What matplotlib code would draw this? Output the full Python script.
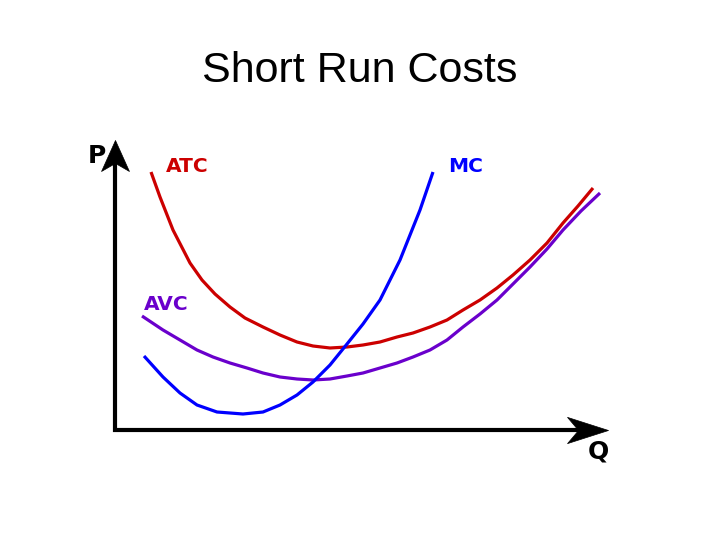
from matplotlib import pyplot as plt
from matplotlib.path import Path

# curvas de costos a corto plazo (Q en horizontal, P en vertical)
atc_q = [36, 45, 58, 75, 87, 100, 115, 130, 148, 165, 182, 198, 215, 232, 248, 265, 282,
         298, 315, 332, 348, 365, 382, 398, 415, 432, 448, 463, 478]
atc_p = [258, 233, 200, 167, 150, 136, 123, 112, 103, 95, 88, 84, 82, 83, 85, 88, 93,
         97, 103, 110, 120, 130, 142, 155, 170, 187, 207, 224, 242]

avc_q = [27, 48, 65, 82, 98, 115, 132, 148, 165, 182, 198, 215, 232, 248, 265, 282,
         298, 315, 332, 348, 365, 382, 398, 415, 432, 448, 466, 485]
avc_p = [114, 100, 90, 80, 73, 67, 62, 57, 53, 51, 50, 51, 54, 57, 62, 67,
         73, 80, 90, 103, 116, 130, 146, 163, 181, 200, 219, 237]

mc_q = [29, 48, 65, 82, 102, 128, 148, 165, 182, 198, 215, 232, 248, 265, 285, 305, 318]
mc_p = [74, 53, 37, 25, 18, 16, 18, 25, 35, 48, 65, 86, 106, 130, 170, 220, 258]

rojo = '#cc0000'
morado = '#6a00cc'
azul = '#0000ff'

fig = plt.figure(figsize=(7.2, 5.4), dpi=100)
ax = fig.add_axes([0, 0, 1, 1])
ax.set_xlim(-115, 605)
ax.set_ylim(-110, 430)
ax.axis('off')

fig.text(0.5, 1 - 82 / 540, 'Short Run Costs', ha='center', va='baseline',
         fontsize=31, family='Liberation Sans')

# ejes con puntas de flecha concavas
ax.plot([0, 0, 480], [280, 0, 0], color='black', lw=3, solid_joinstyle='miter',
        solid_capstyle='butt')
punta_y = Path([(0, 0), (0.45, -1), (0, -0.74), (-0.45, -1), (0, 0)],
               [Path.MOVETO, Path.LINETO, Path.LINETO, Path.LINETO, Path.CLOSEPOLY])
punta_x = Path([(0, 0), (-1, 0.32), (-0.73, 0), (-1, -0.32), (0, 0)],
               [Path.MOVETO, Path.LINETO, Path.LINETO, Path.LINETO, Path.CLOSEPOLY])
ax.plot([0], [290], marker=punta_y, ms=44.6, color='black', mew=0.5)
ax.plot([493], [0], marker=punta_x, ms=59, color='black', mew=0.5)

ax.plot(atc_q, atc_p, color=rojo, lw=2.3, solid_capstyle='butt')
ax.plot(avc_q, avc_p, color=morado, lw=2.3, solid_capstyle='butt')
ax.plot(mc_q, mc_p, color=azul, lw=2.3, solid_capstyle='butt')

ax.text(-18, 267, 'P', fontsize=18, fontweight='bold', ha='center', va='baseline')
ax.text(483, -28, 'Q', fontsize=18, fontweight='bold', ha='center', va='baseline')
ax.text(72, 258, 'ATC', fontsize=14.5, fontweight='bold', color=rojo, ha='center', va='baseline')
ax.text(351, 258, 'MC', fontsize=14.5, fontweight='bold', color=azul, ha='center', va='baseline')
ax.text(51, 120, 'AVC', fontsize=14.5, fontweight='bold', color=morado, ha='center', va='baseline')

plt.savefig('out.png', dpi=100)
